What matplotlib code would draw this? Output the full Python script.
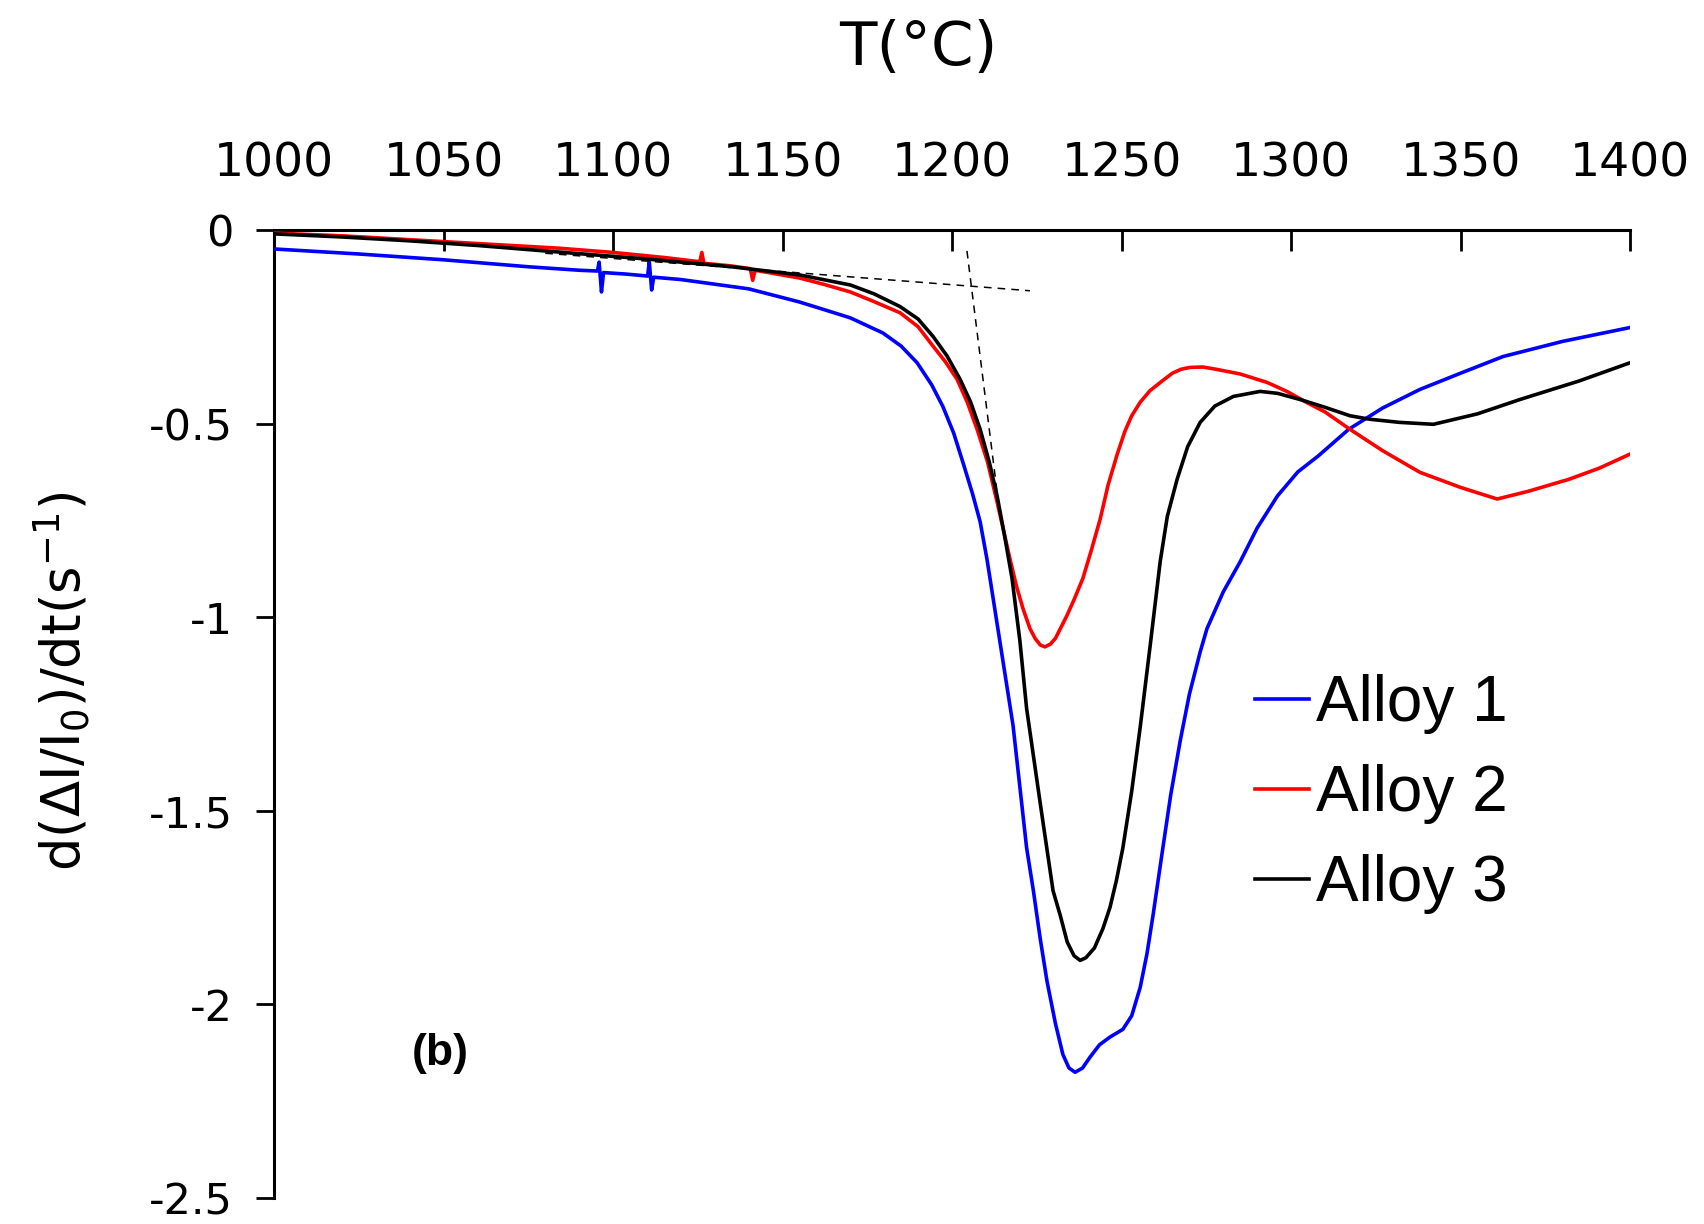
import matplotlib
matplotlib.use("Agg")
import matplotlib.pyplot as plt
from matplotlib import font_manager as fm
from matplotlib.lines import Line2D

# ---------------- data ----------------
x_alloy1 = [1000, 1025, 1050, 1075, 1090, 1095.4, 1095.9, 1096.6, 1097.2, 1104, 1110.2, 1110.7,
            1111.4, 1112.0, 1120, 1140, 1155, 1162, 1170, 1179.6, 1185, 1189.7, 1194, 1197.3,
            1200.5, 1203.2, 1206, 1208.3, 1210.3, 1211.2, 1218, 1222, 1224, 1226, 1228, 1230.5,
            1232.7, 1234.5, 1236.3, 1238.5, 1240.7, 1243.5, 1246.6, 1248.5, 1250.4, 1253,
            1255.5, 1257.5, 1259.3, 1262.2, 1264.5, 1267.3, 1270, 1273.2, 1275.2, 1280, 1285,
            1290, 1296, 1302, 1308, 1317, 1327, 1338, 1350, 1362.5, 1380, 1400]
y_alloy1 = [-0.049, -0.062, -0.077, -0.095, -0.104, -0.106, -0.083, -0.160, -0.110, -0.114,
            -0.119, -0.083, -0.155, -0.122, -0.128, -0.152, -0.186, -0.205, -0.227, -0.266,
            -0.300, -0.343, -0.400, -0.456, -0.525, -0.600, -0.680, -0.754, -0.850, -0.900,
            -1.280, -1.596, -1.707, -1.830, -1.940, -2.050, -2.130, -2.165, -2.176, -2.165,
            -2.137, -2.105, -2.085, -2.075, -2.065, -2.030, -1.957, -1.870, -1.770, -1.596,
            -1.460, -1.320, -1.200, -1.090, -1.030, -0.935, -0.857, -0.770, -0.687, -0.625,
            -0.584, -0.515, -0.460, -0.412, -0.370, -0.327, -0.288, -0.252]

x_alloy2 = [1000, 1020, 1040, 1060, 1084, 1100, 1115, 1125.6, 1126.2, 1126.8, 1135, 1140.5,
            1141.2, 1141.9, 1155, 1162, 1170, 1177, 1184.7, 1190, 1194.4, 1198, 1201.5, 1204.5,
            1207.4, 1210.5, 1213.3, 1217.1, 1219, 1221, 1223, 1224.5, 1226, 1227.4, 1229,
            1230.5, 1233.9, 1236, 1238.6, 1241, 1243.7, 1246, 1248.7, 1251, 1253, 1255.5,
            1258.4, 1262, 1265, 1267.5, 1270.2, 1274, 1278, 1285, 1293, 1299, 1304.7, 1310,
            1317.4, 1327, 1338, 1350, 1360.8, 1370, 1382, 1391, 1400]
y_alloy2 = [-0.008, -0.015, -0.025, -0.035, -0.047, -0.058, -0.071, -0.082, -0.058, -0.086,
            -0.093, -0.100, -0.130, -0.104, -0.124, -0.140, -0.160, -0.185, -0.214, -0.250,
            -0.300, -0.340, -0.386, -0.445, -0.515, -0.600, -0.703, -0.850, -0.920, -0.980,
            -1.030, -1.055, -1.072, -1.077, -1.070, -1.055, -0.996, -0.955, -0.900, -0.830,
            -0.747, -0.660, -0.580, -0.520, -0.480, -0.445, -0.415, -0.390, -0.370, -0.360,
            -0.355, -0.354, -0.360, -0.372, -0.394, -0.418, -0.446, -0.470, -0.515, -0.570,
            -0.626, -0.665, -0.695, -0.675, -0.644, -0.615, -0.579]

x_alloy3 = [1000, 1020, 1040, 1060, 1084, 1110, 1135, 1155, 1170, 1177, 1184.7, 1190, 1194.4,
            1198.5, 1202.4, 1205.5, 1208.3, 1211, 1213.3, 1215.5, 1217.7, 1220, 1222, 1226,
            1229.8, 1231.9, 1234, 1236, 1237.8, 1239.5, 1242, 1244.5, 1246.6, 1248.5, 1250.4,
            1253, 1255.5, 1258.5, 1261.4, 1263.5, 1266.4, 1269.5, 1273.2, 1277.5, 1283,
            1290.9, 1296, 1302.7, 1310, 1317.4, 1323.3, 1332, 1342, 1355, 1367.5, 1385, 1400]
y_alloy3 = [-0.010, -0.018, -0.028, -0.040, -0.057, -0.075, -0.095, -0.116, -0.142, -0.165,
            -0.198, -0.230, -0.275, -0.325, -0.386, -0.445, -0.515, -0.600, -0.687, -0.790,
            -0.900, -1.060, -1.236, -1.480, -1.707, -1.770, -1.840, -1.875, -1.887, -1.880,
            -1.855, -1.805, -1.750, -1.680, -1.596, -1.450, -1.285, -1.070, -0.857, -0.740,
            -0.644, -0.560, -0.497, -0.455, -0.430, -0.417, -0.422, -0.438, -0.458, -0.480,
            -0.489, -0.497, -0.502, -0.475, -0.438, -0.390, -0.343]

# construction (tangent) lines
tangent_base_x = [1080, 1223]
tangent_base_y = [-0.060, -0.157]
tangent_steep_x = [1204.4, 1213.3]
tangent_steep_y = [-0.054, -0.677]

labels = ["Alloy 1", "Alloy 2", "Alloy 3"]
colors = ["#0000FF", "#FF0000", "#000000"]
x_ticks = [1000, 1050, 1100, 1150, 1200, 1250, 1300, 1350, 1400]
y_ticks = [0, -0.5, -1, -1.5, -2, -2.5]
y_ticklabels = ["0", "-0.5", "-1", "-1.5", "-2", "-2.5"]

# ---------------- fonts ----------------
plt.rcParams["axes.unicode_minus"] = False
plt.rcParams["mathtext.default"] = "regular"
plt.rcParams["font.family"] = ["DejaVu Sans"]

# ---------------- figure ----------------
fig = plt.figure(figsize=(17.04, 12.24), dpi=100)
ax = fig.add_axes([0.1608, 0.0215, 0.7958, 0.7906])

ax.plot(x_alloy1, y_alloy1, color=colors[0], lw=2.6, label=labels[0], zorder=3)
ax.plot(x_alloy2, y_alloy2, color=colors[1], lw=2.6, label=labels[1], zorder=3)
ax.plot(x_alloy3, y_alloy3, color=colors[2], lw=2.6, label=labels[2], zorder=4)
ax.plot(tangent_base_x, tangent_base_y, color="black", lw=1.1, ls=(0, (5, 4)), zorder=5)
ax.plot(tangent_steep_x, tangent_steep_y, color="black", lw=1.1, ls=(0, (5, 4)), zorder=5)

ax.set_xlim(1000, 1400)
ax.set_ylim(-2.5, 0)

for s in ("bottom", "right"):
    ax.spines[s].set_visible(False)
for s in ("top", "left"):
    ax.spines[s].set_linewidth(2.2)

ax.xaxis.tick_top()
ax.set_xticks(x_ticks)
ax.set_xticklabels([str(v) for v in x_ticks])
ax.tick_params(axis="x", which="major", direction="in", length=15, width=2.0, pad=31,
               labelsize=34)
ax.set_yticks(y_ticks)
ax.set_yticklabels(y_ticklabels)
ax.tick_params(axis="y", which="major", direction="out", length=13, width=2.0, pad=16.5,
               labelsize=31)

fig.text(0.5387, 0.960, "T(\u00b0C)", ha="center", va="center", fontsize=44)
fig.text(0.036, 0.443, r"d($\Delta$I/I$_0$)/dt(s$^{-1}$)", rotation=90, ha="center",
         va="center", fontsize=38)

ax.text(1049, -2.127, "(b)", fontsize=32, fontweight="bold", ha="center", va="center",
        family=["Liberation Sans", "DejaVu Sans"])

handles = [Line2D([], [], color=c, lw=2.6) for c in colors]
ax.legend(handles, labels, loc="center left", bbox_to_anchor=(0.7365, 0.3512),
          bbox_transform=fig.transFigure, frameon=False, handlelength=0.85,
          handletextpad=0.1, labelspacing=0.466, borderpad=0, borderaxespad=0,
          prop=fm.FontProperties(family="Liberation Sans", size=46))

fig.savefig("out.png", dpi=100)
